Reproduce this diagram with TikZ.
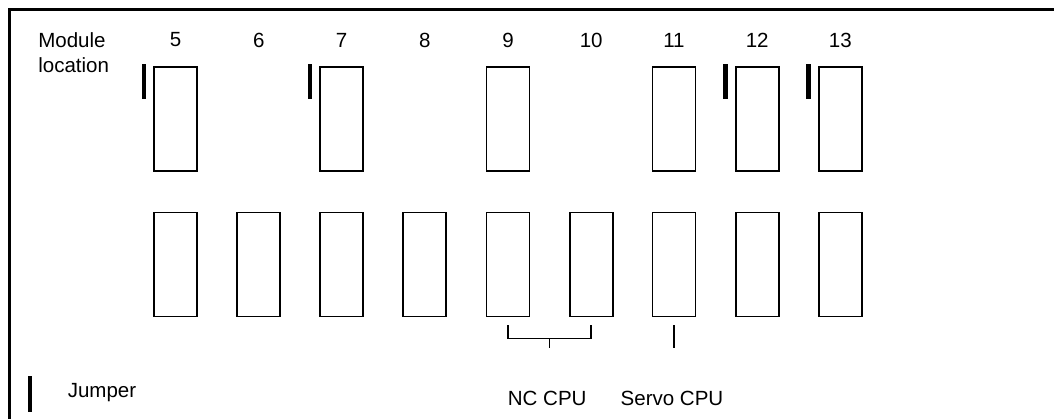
\documentclass[tikz,border=0pt]{standalone}
\usepackage{fontspec}
\setmainfont{Liberation Sans}
\usepackage{tikz}
\usetikzlibrary{positioning}
\usetikzlibrary{calc}

\begin{document}
\begin{tikzpicture}[
				 font=\fontsize{14.6}{16}\selectfont,
				 modulenode/.style={rectangle, draw=black, line width=1.2pt, minimum width=1.075cm, minimum height=2.6cm, inner sep=0pt},
				 jumpernode/.style={rectangle, fill=black, minimum width=0.11cm, minimum height=0.875cm, inner sep=0pt},
				 labelnode/.style={inner sep=0pt},
				 bracketline/.style={line width=1.2pt},
				 ]
				 \useasboundingbox (0, 0) rectangle (26.35, 10.475);
				 % Nodes
				 \node[labelnode, anchor=west]          		(module_label)        		at (0.95, 9.475)   		{Module};
				 \node[labelnode, anchor=west]          		(location_label)       		at (0.95, 8.85)   		{location};
				 \node[labelnode]          		(number5)        		at (4.39, 9.475)   		{5};
				 \node[labelnode]          		(number6)        		at (6.47, 9.475)   		{6};
				 \node[labelnode]          		(number7)        		at (8.54, 9.475)   		{7};
				 \node[labelnode]          		(number8)        		at (10.62, 9.475)   	{8};
				 \node[labelnode]          		(number9)        		at (12.70, 9.475)   	{9};
				 \node[labelnode]          		(number10)        		at (14.78, 9.475)   	{10};
				 \node[labelnode]          		(number11)        		at (16.85, 9.475)   	{11};
				 \node[labelnode]          		(number12)        		at (18.93, 9.475)   	{12};
				 \node[labelnode]          		(number13)        		at (21.01, 9.475)   	{13};

				 \node[modulenode]          		(module_top5)        		at (4.39, 7.5)   		{};
				 \node[modulenode]          		(module_top7)        		at (8.54, 7.5)   		{};
				 \node[modulenode]          		(module_top9)        		at (12.70, 7.5)   		{};
				 \node[modulenode]          		(module_top11)        		at (16.85, 7.5)   		{};
				 \node[modulenode]          		(module_top12)        		at (18.93, 7.5)   		{};
				 \node[modulenode]          		(module_top13)        		at (21.01, 7.5)   		{};

				 \node[jumpernode, anchor=north east]          	(jumper_top5)        	at ([xshift=-0.175cm, yshift=0.05cm]module_top5.north west)   	{};
				 \node[jumpernode, anchor=north east]          	(jumper_top7)        	at ([xshift=-0.175cm, yshift=0.05cm]module_top7.north west)   	{};
				 \node[jumpernode, anchor=north east]          	(jumper_top12)        	at ([xshift=-0.175cm, yshift=0.05cm]module_top12.north west)   	{};
				 \node[jumpernode, anchor=north east]          	(jumper_top13)        	at ([xshift=-0.175cm, yshift=0.05cm]module_top13.north west)   	{};

				 \node[modulenode]          		(module_bottom5)        	at (4.39, 3.86)   		{};
				 \node[modulenode]          		(module_bottom6)        	at (6.47, 3.86)   		{};
				 \node[modulenode]          		(module_bottom7)        	at (8.54, 3.86)   		{};
				 \node[modulenode]          		(module_bottom8)        	at (10.62, 3.86)   		{};
				 \node[modulenode]          		(module_bottom9)        	at (12.70, 3.86)   		{};
				 \node[modulenode]          		(module_bottom10)        	at (14.78, 3.86)   		{};
				 \node[modulenode]          		(module_bottom11)        	at (16.85, 3.86)   		{};
				 \node[modulenode]          		(module_bottom12)        	at (18.93, 3.86)   		{};
				 \node[modulenode]          		(module_bottom13)        	at (21.01, 3.86)   		{};

				 \node[labelnode]          		(nc_cpu)        		at (13.68, 0.525)   	{NC CPU};
				 \node[labelnode]          		(servo_cpu)        		at (16.80, 0.525)   	{Servo CPU};
				 \node[jumpernode, minimum height=0.9cm]          	(jumper_legend)        	at (0.75, 0.625)   		{};
				 \node[labelnode]          		(jumper_label)        		at (2.55, 0.65)   		{Jumper};

				 % Lines
				 \coordinate (nc_left)   at ([yshift=-0.2cm]module_bottom9.south);
				 \coordinate (nc_right)  at ([yshift=-0.2cm]module_bottom10.south);
				 \coordinate (nc_mid)    at ($(nc_left)!0.5!(nc_right) + (0,-0.325)$);
				 \draw[bracketline] (nc_left) -- ++(0,-0.325) -| (nc_right);
				 \draw[bracketline] (nc_mid) -- ++(0,-0.25);
				 \draw[bracketline] ([yshift=-0.2cm]module_bottom11.south) -- ++(0,-0.575);
				 \draw[line width=1.5pt]  (0.2375, 0) -- (0.2375, 10.2375) -- (26.35, 10.2375);
			\end{tikzpicture}
\end{document}
